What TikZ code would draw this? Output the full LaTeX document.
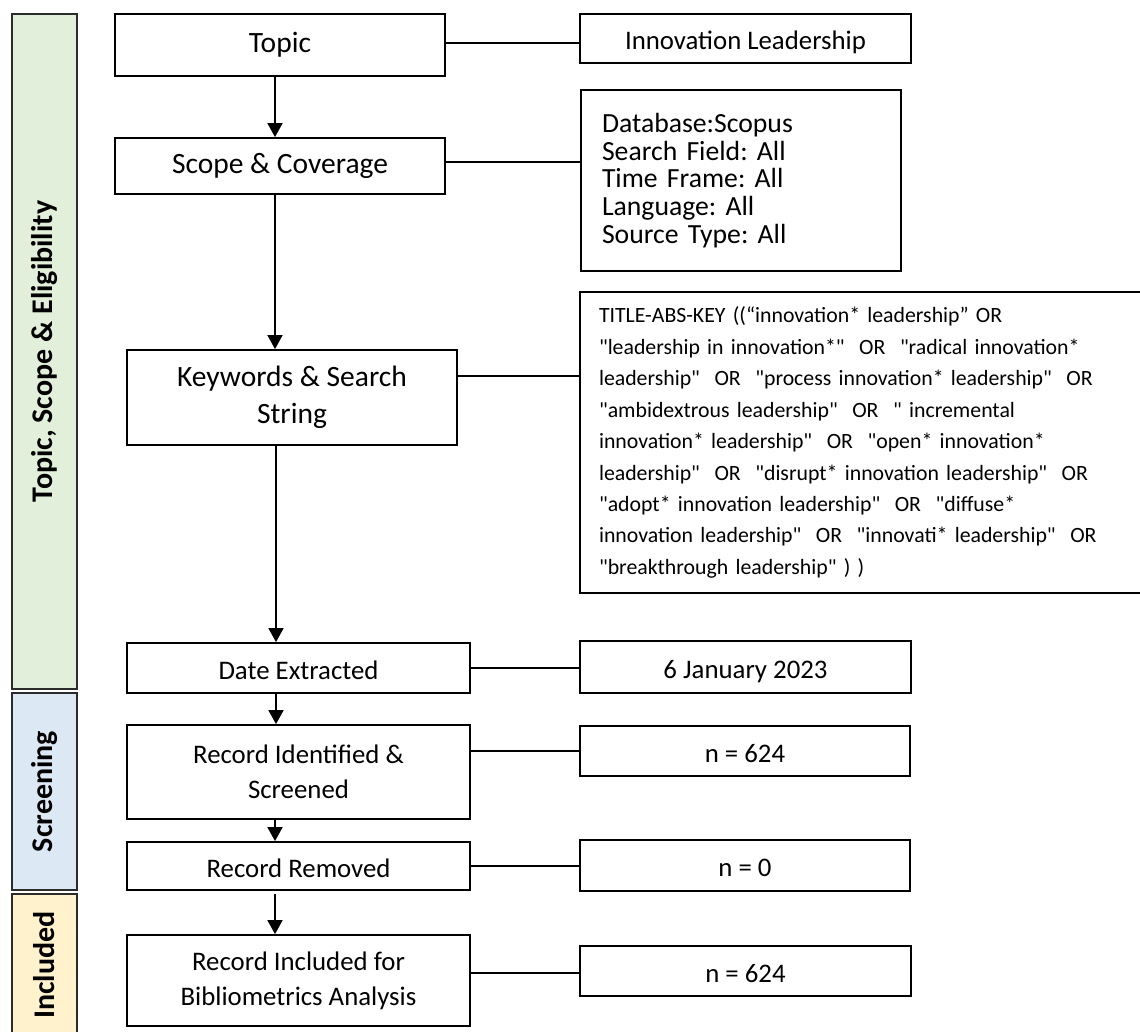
\documentclass[tikz,border=0pt]{standalone}
\usepackage{fontspec}
\setmainfont{Carlito}
\newfontfamily\plaincarlito{Carlito}
\frenchspacing
\usetikzlibrary{arrows.meta}
\definecolor{bandgreen}{HTML}{E2EFDA}
\definecolor{bandblue}{HTML}{DDE8F5}
\definecolor{bandyellow}{HTML}{FFF2CC}
\definecolor{bandedge}{HTML}{2B2B2B}
\tikzset{
  boxnode/.style={draw=black, line width=1.8pt, fill=white, inner sep=0pt, align=center},
  bignode/.style={boxnode, font=\fontsize{29.5}{37.5}\selectfont},
  lownode/.style={boxnode, font=\fontsize{26.8}{34.7}\selectfont},
  oneline/.style={text height=22pt, text depth=0pt},
  band/.style={draw=bandedge, line width=1.8pt, rotate=90, inner sep=0pt, font=\fontsize{30}{36}\selectfont\bfseries},
  link/.style={line width=1.8pt},
  arr/.style={line width=1.8pt, -{Triangle[length=14pt,width=15pt]}}
}
\begin{document}
\begin{tikzpicture}[x=1pt,y=-1pt]
\useasboundingbox (0,0) rectangle (1140,1032);
\begin{scope}
\clip (0,0) rectangle (1140,1032);
% bands
\node[band, fill=bandgreen, minimum width=675pt, minimum height=65pt] (bg) at (44.5,351.5) {Topic, Scope \& Eligibility};
\node[band, fill=bandblue, minimum width=197pt, minimum height=65pt] (bb) at (44.5,791.5) {Screening};
\node[band, fill=bandyellow, minimum width=142pt, minimum height=65pt] (by) at (44.5,965) {Included};
% left column
\node[bignode, minimum width=330pt, minimum height=62pt] (topic) at (280,45) {Topic};
\node[bignode, minimum width=330pt, minimum height=56pt] (scope) at (280,166) {Scope \& Coverage};
\node[bignode, minimum width=330pt, minimum height=95pt] (kw) at (292,397.5) {Keywords \& Search\\String};
\node[lownode, oneline, minimum width=343pt, minimum height=50pt] (date) at (298.5,668) {Date Extracted};
\node[lownode, minimum width=343pt, minimum height=94pt] (rid) at (298.5,772) {Record Identified \&\\Screened};
\node[lownode, oneline, minimum width=343pt, minimum height=48pt] (rrem) at (298.5,866) {Record Removed};
\node[lownode, minimum width=343pt, minimum height=91pt] (rinc) at (298.5,980.5) {Record Included for\\Bibliometrics Analysis};
% right column
\node[lownode, oneline, minimum width=331pt, minimum height=49pt] (innov) at (745.5,38.5) {Innovation Leadership};
\node[boxnode, minimum width=320pt, minimum height=181pt, text width=278pt, align=left,
      font=\fontsize{27.7}{27.7}\selectfont] (db) at (741,180.5)
      {Database:Scopus\\Search Field: All\\Time Frame: All\\Language: All\\Source Type: All};
\node[boxnode, minimum width=564pt, minimum height=301pt, text width=526pt, align=left,
      font=\plaincarlito\fontsize{21.8}{31.45}\selectfont] (search) at (862,442.5)
      {TITLE-ABS-KEY ((“innovation* leadership” OR\\
       "leadership in innovation*"\ \ OR\ \ "radical innovation*\\
       leadership"\ \ OR\ \ "process innovation* leadership"\ \ OR\\
       "ambidextrous leadership"\ \ OR\ \ " incremental\\
       innovation* leadership"\ \ OR\ \ "open* innovation*\\
       leadership"\ \ OR\ \ "disrupt* innovation leadership"\ \ OR\\
       "adopt* innovation leadership"\ \ OR\ \ "diffuse*\\
       innovation leadership"\ \ OR\ \ "innovati* leadership"\ \ OR\\
       "breakthrough leadership" ) )};
\node[lownode, oneline, minimum width=331pt, minimum height=52pt] (jan) at (745.5,667) {6 January 2023};
\node[lownode, oneline, minimum width=330pt, minimum height=50pt] (na) at (745,751) {n = 624};
\node[lownode, oneline, minimum width=330pt, minimum height=51pt] (nz) at (745,865.5) {n = 0};
\node[lownode, oneline, minimum width=331pt, minimum height=50pt] (nb) at (745.5,971) {n = 624};
\end{scope}
% vertical arrows
\coordinate (ax) at (275,0);
\coordinate (bx) at (276,0);
\draw[arr] (topic.south -| ax) -- (scope.north -| ax);
\draw[arr] (scope.south -| ax) -- (kw.north -| ax);
\draw[arr] (kw.south -| bx) -- (date.north -| bx);
\draw[arr] (date.south -| bx) -- (rid.north -| bx);
\draw[arr] (rid.south -| ax) -- (rrem.north -| ax);
\draw[arr] ([yshift=-3pt]rrem.south -| ax) -- (rinc.north -| ax);
% horizontal links
\draw[link] ([yshift=2pt]topic.east) -- ([yshift=2pt]topic.east -| innov.west);
\draw[link] ([yshift=4pt]scope.east) -- ([yshift=4pt]scope.east -| db.west);
\draw[link] ([yshift=21.5pt]kw.east) -- ([yshift=21.5pt]kw.east -| search.west);
\draw[link] (date.east) -- (date.east -| jan.west);
\draw[link] (na.west -| rid.east) -- (na.west);
\draw[link] (rrem.east) -- (rrem.east -| nz.west);
\draw[link] ([yshift=7.5pt]rinc.east) -- ([yshift=7.5pt]rinc.east -| nb.west);
\end{tikzpicture}
\end{document}
